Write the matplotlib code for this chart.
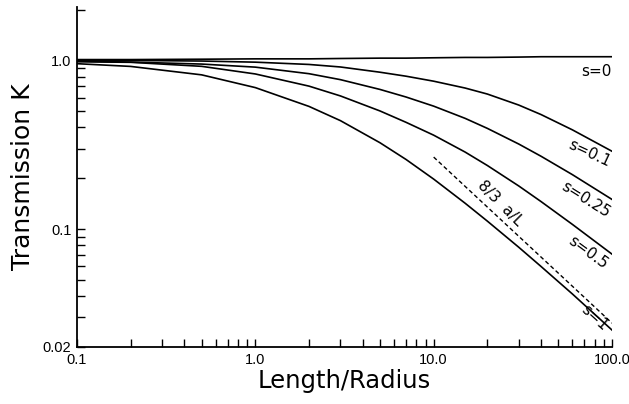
import numpy as np
import matplotlib
matplotlib.use("Agg")
import matplotlib.pyplot as plt
from matplotlib.ticker import FixedLocator, FixedFormatter, LogLocator, NullFormatter

# values (log-log)
length_radius = [0.1, 0.2, 0.5, 1.0, 2.0, 3.0, 5.0, 7.0, 10.0, 15.0, 20.0, 30.0, 40.0, 60.0, 100.0]
k_s0 = [1.01, 1.01, 1.015, 1.02, 1.02, 1.025, 1.03, 1.03, 1.035, 1.04, 1.04, 1.045, 1.05, 1.05, 1.05]
k_s01 = [1.0, 0.998, 0.99, 0.975, 0.945, 0.913, 0.850, 0.805, 0.752, 0.685, 0.631, 0.543, 0.477, 0.387, 0.289]
k_s025 = [0.99, 0.976, 0.950, 0.911, 0.833, 0.768, 0.672, 0.606, 0.535, 0.453, 0.395, 0.319, 0.270, 0.210, 0.1498]
k_s05 = [0.98, 0.973, 0.921, 0.830, 0.703, 0.615, 0.501, 0.429, 0.360, 0.286, 0.238, 0.180, 0.1455, 0.1065, 0.0710]
k_s1 = [0.955, 0.920, 0.820, 0.689, 0.533, 0.439, 0.3247, 0.2584, 0.1977, 0.1423, 0.1114, 0.078, 0.060, 0.0412, 0.0252]

asym_x = [10.0, 100.0]
asym_k = [0.267, 0.0277]

xticks = [0.1, 1.0, 10.0, 100.0]
xticklabels = ["0.1", "1.0", "10.0", "100.0"]
yticks = [0.02, 0.1, 1.0]
yticklabels = ["0.02", "0.1", "1.0"]

fig = plt.figure(figsize=(6.29, 4.04), dpi=100)
ax = fig.add_axes([0.1224, 0.1411, 0.8506, 0.8416])

for k in [k_s0, k_s01, k_s025, k_s05, k_s1]:
    ax.plot(length_radius, k, color="black", lw=1.2)
ax.plot(asym_x, asym_k, color="black", lw=1.0, dashes=(3, 2))

ax.set_xscale("log")
ax.set_yscale("log")
ax.set_xlim(0.1, 100.0)
ax.set_ylim(0.02, 2.07)

ax.spines["top"].set_visible(False)
ax.spines["right"].set_visible(False)
for sp in ["left", "bottom"]:
    ax.spines[sp].set_linewidth(1.3)

ax.xaxis.set_major_locator(FixedLocator(xticks))
ax.xaxis.set_major_formatter(FixedFormatter(xticklabels))
ax.yaxis.set_major_locator(FixedLocator(yticks))
ax.yaxis.set_major_formatter(FixedFormatter(yticklabels))
ax.xaxis.set_minor_locator(LogLocator(base=10, subs=np.arange(2, 10)))
ax.yaxis.set_minor_locator(LogLocator(base=10, subs=np.arange(2, 10)))
ax.xaxis.set_minor_formatter(NullFormatter())
ax.yaxis.set_minor_formatter(NullFormatter())
ax.tick_params(which="both", direction="in", length=5.5, width=1.0, pad=4)
for lbl in ax.get_xticklabels() + ax.get_yticklabels():
    lbl.set_fontfamily("Liberation Sans")
    lbl.set_fontsize(10.5)

ax.set_xlabel("Length/Radius", fontsize=17.5)
ax.set_ylabel("Transmission K", fontsize=18)
ax.xaxis.set_label_coords(0.5, -0.065)
ax.yaxis.set_label_coords(-0.078, 0.5)

# curve labels
ax.text(100.0, 0.86, "s=0", fontsize=11, ha="right", va="center")
ax.text(74.4, 0.281, "s=0.1", fontsize=11, ha="center", va="center", rotation=-25)
ax.text(71.6, 0.150, "s=0.25", fontsize=11, ha="center", va="center", rotation=-32)
ax.text(73.7, 0.0729, "s=0.5", fontsize=11, ha="center", va="center", rotation=-36)
ax.text(79.4, 0.0296, "s=1", fontsize=11, ha="center", va="center", rotation=-42)
ax.text(23.5, 0.142, "8/3  a/L", fontsize=11, ha="center", va="center", rotation=-45)

fig.savefig("out.png", dpi=100)
